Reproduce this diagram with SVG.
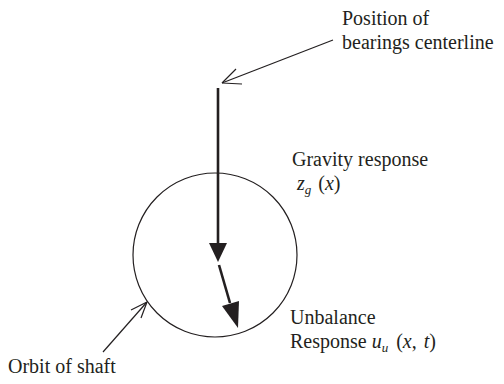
<svg xmlns="http://www.w3.org/2000/svg" width="504" height="384" viewBox="0 0 504 384">
<style>
text{font-family:"Liberation Serif","Times New Roman",serif;font-size:20px;fill:#231f20}
.thin{stroke:#231f20;stroke-width:1.2;fill:none}
.thick{stroke:#231f20;stroke-width:2.6;fill:none}
.head{fill:#231f20;stroke:none}
</style>
<rect width="504" height="384" fill="#fff"/>
<g id="orbit">
<circle cx="215" cy="255" r="82" class="thin"/>
</g>
<g id="connectors">
<path class="thin" d="M333,40 L222,83"/>
<path class="thin" d="M222,83 L236,69 M222,83 L242,84"/>
<path class="thin" d="M103,352 L147,302"/>
<path class="thin" d="M147,302 L131,310 M147,302 L141,318"/>
<path class="thick" d="M218,88 L218,246"/>
<polygon class="head" points="209,243 227,243 218,262"/>
<path class="thick" d="M219,265 L230,303"/>
<polygon class="head" points="222,306 239,301 238,328"/>
</g>
<g id="label-bearings">
<text x="342" y="25">Position of</text>
<text x="342" y="49">bearings centerline</text>
</g>
<g id="label-gravity">
<text x="292" y="166">Gravity response</text>
<text x="297" y="190"><tspan font-style="italic">z</tspan><tspan font-style="italic" font-size="13" dy="4">g</tspan><tspan dy="-4" dx="2"> (</tspan><tspan font-style="italic">x</tspan>)</text>
</g>
<g id="label-unbalance">
<text x="290" y="324">Unbalance</text>
<text x="290" y="348">Response <tspan font-style="italic">u</tspan><tspan font-style="italic" font-size="13" dy="4">u</tspan><tspan dy="-4" dx="3"> (</tspan><tspan font-style="italic">x</tspan><tspan>, </tspan><tspan font-style="italic" dx="2">t</tspan>)</text>
</g>
<g id="label-orbit">
<text x="8" y="373">Orbit of shaft</text>
</g>
</svg>
